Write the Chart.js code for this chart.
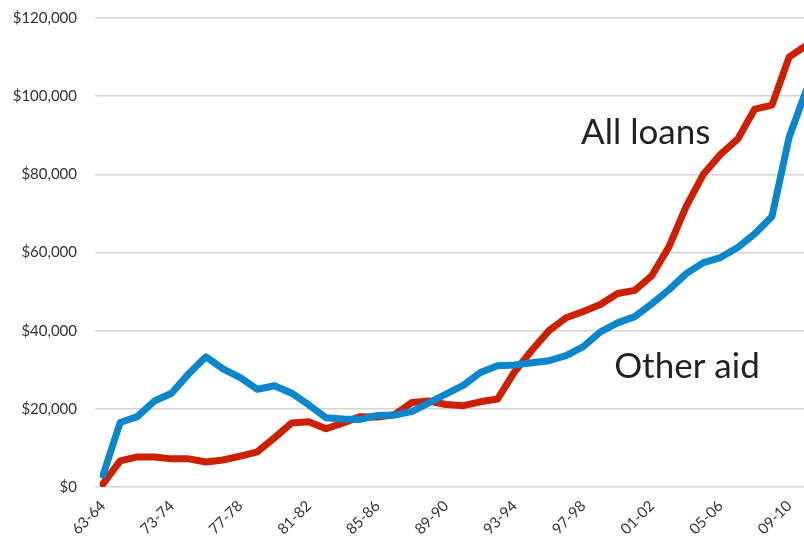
<!DOCTYPE html>
<html>
<head>
<meta charset="utf-8">
<script src="https://cdn.jsdelivr.net/npm/chart.js@4/dist/chart.umd.min.js"></script>
<style>
  html, body { margin: 0; padding: 0; background: #fff; overflow: hidden; }
  #wrap { width: 821px; height: 539px; }
</style>
</head>
<body>
<div id="wrap"><canvas id="chart" width="821" height="539"></canvas></div>
<script>
// school years, first one then 70-71 onwards
const years = ['63-64', '70-71', '71-72', '72-73', '73-74', '74-75', '75-76', '76-77', '77-78', '78-79',
  '79-80', '80-81', '81-82', '82-83', '83-84', '84-85', '85-86', '86-87', '87-88', '88-89',
  '89-90', '90-91', '91-92', '92-93', '93-94', '94-95', '95-96', '96-97', '97-98', '98-99',
  '99-00', '00-01', '01-02', '02-03', '03-04', '04-05', '05-06', '06-07', '07-08', '08-09',
  '09-10', '10-11'];

const allLoans = [800, 6700, 7700, 7700, 7200, 7200, 6400, 6900, 7900, 9000,
  12600, 16400, 16700, 14900, 16400, 18000, 17900, 18500, 21600, 22000,
  21100, 20800, 21800, 22500, 29500, 35000, 40000, 43300, 44900, 46700,
  49500, 50300, 54100, 61500, 71800, 80000, 85100, 89000, 96700, 97700,
  110000, 113000];

const otherAid = [3000, 16500, 18000, 22000, 24000, 29000, 33300, 30200, 28000, 25000,
  25900, 24000, 21000, 17700, 17400, 17300, 18300, 18400, 19300, 21500,
  23800, 26000, 29300, 31000, 31200, 31800, 32300, 33600, 35900, 39700,
  42000, 43600, 46900, 50500, 54600, 57400, 58700, 61300, 64800, 69200,
  89500, 101500];

const yTicks = [0, 20000, 40000, 60000, 80000, 100000, 120000];

// text labels: [text, category index, value]
const notes = [
  ['All loans', 27.87, 87700],
  ['Other aid', 29.8, 27950]
];

const FONT = 'Lato, "Open Sans", sans-serif';

const notesPlugin = {
  id: 'notes',
  afterDatasetsDraw(chart) {
    const ctx = chart.ctx;
    const x = chart.scales.x, y = chart.scales.y;
    ctx.save();
    ctx.fillStyle = '#222';
    ctx.font = '35px ' + FONT;
    ctx.textBaseline = 'alphabetic';
    ctx.textAlign = 'left';
    notes.forEach(function (n) {
      ctx.fillText(n[0], x.getPixelForValue(n[1]), y.getPixelForValue(n[2]));
    });
    ctx.restore();
  }
};

new Chart(document.getElementById('chart'), {
  type: 'line',
  data: {
    labels: years,
    datasets: [
      {
        label: 'Other aid',
        data: otherAid,
        borderColor: '#0a87cc',
        borderWidth: 7,
        pointRadius: 0,
        tension: 0,
        borderJoinStyle: 'round',
        borderCapStyle: 'round'
      },
      {
        label: 'All loans',
        data: allLoans,
        borderColor: '#cc2000',
        borderWidth: 7,
        pointRadius: 0,
        tension: 0,
        borderJoinStyle: 'round',
        borderCapStyle: 'round'
      }
    ]
  },
  options: {
    responsive: false,
    animation: false,
    layout: { padding: { top: 18, right: 6, left: 0, bottom: 0 } },
    plugins: {
      legend: { display: false },
      tooltip: { enabled: false }
    },
    scales: {
      x: {
        offset: false,
        grid: { display: false },
        border: { display: false },
        ticks: {
          autoSkip: false,
          maxRotation: 45,
          minRotation: 45,
          color: '#333',
          font: { family: FONT, size: 15 },
          padding: 2,
          callback: function (v, i) { return i % 4 === 0 ? years[i] : ''; }
        },
        afterFit: function (s) { s.height = 52; }
      },
      y: {
        min: 0,
        max: 120000,
        afterBuildTicks: function (s) { s.ticks = yTicks.map(function (v) { return { value: v }; }); },
        grid: { color: '#d4d4d4', lineWidth: 1.5, tickLength: 8 },
        border: { display: false },
        ticks: {
          color: '#333',
          padding: 18,
          font: { family: FONT, size: 15 },
          callback: function (v) { return '$' + v.toLocaleString('en-US'); }
        },
        afterFit: function (s) {
          s.width = 103;
          s.paddingTop = 0;
          s.paddingBottom = 0;
        }
      }
    }
  },
  plugins: [notesPlugin]
});
</script>
</body>
</html>
